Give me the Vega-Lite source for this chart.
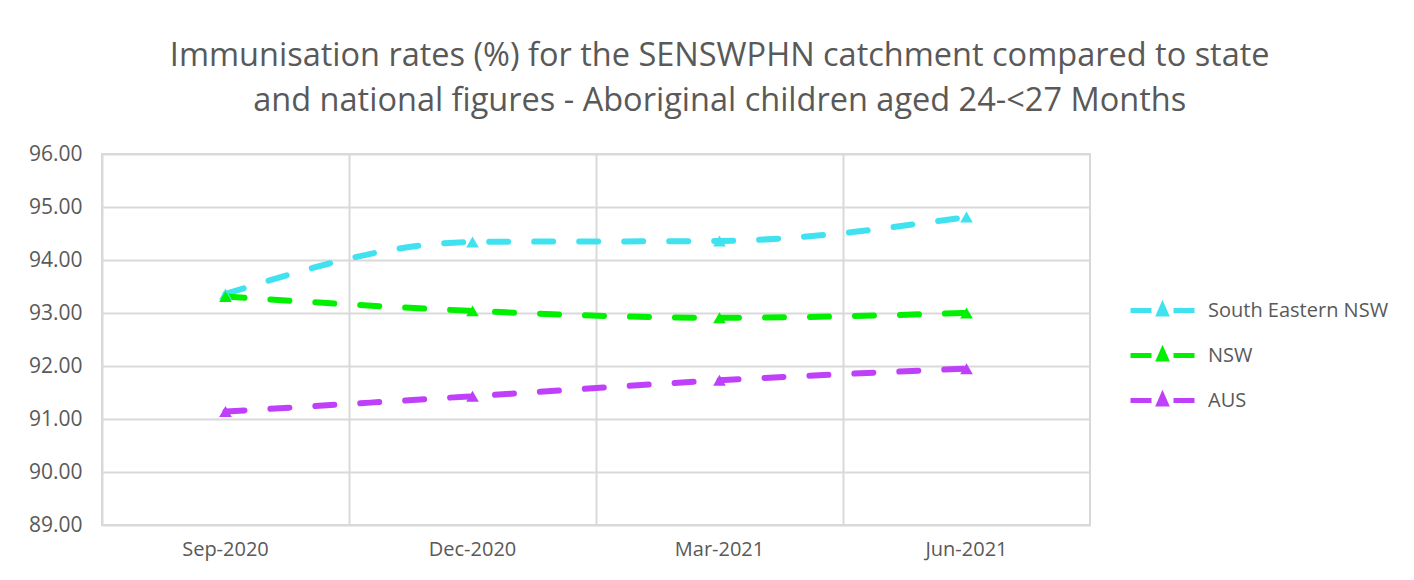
{
  "$schema": "https://vega.github.io/schema/vega-lite/v6.json",
  "autosize": "none",
  "width": 988,
  "height": 371,
  "padding": {"left": 102, "top": 154, "right": 324, "bottom": 55},
  "background": "white",
  "title": {
    "text": ["Immunisation rates (%) for the SENSWPHN catchment compared to state", "and national figures - Aboriginal children aged 24-<27 Months"],
    "font": "Open Sans",
    "fontSize": 32.5,
    "fontWeight": "normal",
    "color": "#595959",
    "lineHeight": 45,
    "anchor": "middle",
    "frame": "bounds",
    "offset": 26,
    "dx": 11
  },
  "config": {
    "view": {"stroke": "#d9d9d9", "strokeWidth": 2},
    "font": "Open Sans"
  },
  "data": {
    "values": [
      {"period": "Sep-2020", "region": "South Eastern NSW", "rate": 93.36},
      {"period": "Dec-2020", "region": "South Eastern NSW", "rate": 94.34},
      {"period": "Mar-2021", "region": "South Eastern NSW", "rate": 94.36},
      {"period": "Jun-2021", "region": "South Eastern NSW", "rate": 94.81},
      {"period": "Sep-2020", "region": "NSW", "rate": 93.31},
      {"period": "Dec-2020", "region": "NSW", "rate": 93.04},
      {"period": "Mar-2021", "region": "NSW", "rate": 92.91},
      {"period": "Jun-2021", "region": "NSW", "rate": 93.0},
      {"period": "Sep-2020", "region": "AUS", "rate": 91.14},
      {"period": "Dec-2020", "region": "AUS", "rate": 91.43},
      {"period": "Mar-2021", "region": "AUS", "rate": 91.73},
      {"period": "Jun-2021", "region": "AUS", "rate": 91.95}
    ]
  },
  "encoding": {
    "x": {
      "field": "period",
      "type": "nominal",
      "sort": ["Sep-2020", "Dec-2020", "Mar-2021", "Jun-2021"],
      "scale": {"type": "band", "paddingInner": 0, "paddingOuter": 0},
      "axis": {
        "title": null,
        "labelAngle": 0,
        "labelFont": "Open Sans",
        "labelFontSize": 20,
        "labelColor": "#595959",
        "labelPadding": 14,
        "domain": false,
        "ticks": false,
        "grid": true,
        "gridColor": "#d9d9d9",
        "gridWidth": 2,
        "bandPosition": 0
      }
    },
    "y": {
      "field": "rate",
      "type": "quantitative",
      "scale": {"domain": [89, 96], "nice": false, "zero": false},
      "axis": {
        "title": null,
        "values": [89, 90, 91, 92, 93, 94, 95, 96],
        "format": ".2f",
        "labelFont": "Open Sans",
        "labelFontSize": 21,
        "labelColor": "#595959",
        "labelPadding": 20,
        "domain": false,
        "ticks": false,
        "grid": true,
        "gridColor": "#d9d9d9",
        "gridWidth": 2
      }
    },
    "color": {
      "field": "region",
      "type": "nominal",
      "sort": ["South Eastern NSW", "NSW", "AUS"],
      "scale": {
        "domain": ["South Eastern NSW", "NSW", "AUS"],
        "range": ["#41E2F0", "#00F000", "#BF40FA"]
      },
      "legend": {
        "title": null,
        "orient": "none",
        "legendX": 1048,
        "legendY": 144,
        "padding": 0,
        "symbolType": "M-3.2,0H-1.1M1.1,0H3.2M-0.35,0.35L0,-0.45L0.35,0.35Z",
        "symbolSize": 400,
        "symbolStrokeWidth": 5,
        "symbolDash": [],
        "symbolOpacity": 1,
        "labelFont": "Open Sans",
        "labelFontSize": 20,
        "labelColor": "#595959",
        "labelOffset": 33,
        "labelLimit": 300,
        "rowPadding": 17
      }
    }
  },
  "layer": [
    {
      "mark": {
        "type": "line",
        "interpolate": "monotone",
        "strokeWidth": 6,
        "strokeDash": [19, 26],
        "strokeCap": "round"
      }
    },
    {
      "mark": {
        "type": "point",
        "shape": "triangle-up",
        "filled": true,
        "opacity": 1,
        "size": 160
      }
    }
  ]
}
